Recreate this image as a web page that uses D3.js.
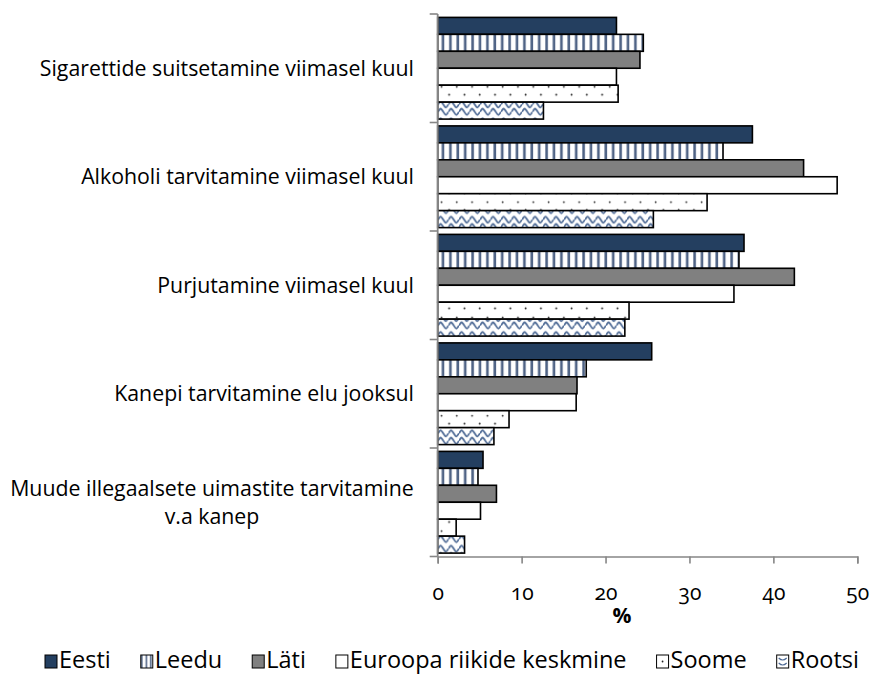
<!DOCTYPE html>
<html>
<head>
<meta charset="utf-8">
<script src="https://cdn.jsdelivr.net/npm/d3@7/dist/d3.min.js"></script>
<style>
  html, body { margin: 0; padding: 0; background: #fff; }
  svg text { font-family: "Open Sans", Lato, sans-serif; fill: #000; font-variant-numeric: oldstyle-nums; font-feature-settings: "onum" 1; }
</style>
</head>
<body>
<svg id="chart" width="872" height="680"></svg>
<script>
// Survey indicators (rows) and country groups (series)
const categories = [
  "Sigarettide suitsetamine viimasel kuul",
  "Alkoholi tarvitamine viimasel kuul",
  "Purjutamine viimasel kuul",
  "Kanepi tarvitamine elu jooksul",
  "Muude illegaalsete uimastite tarvitamine v.a kanep"
];
const seriesNames = ["Eesti", "Leedu", "Läti", "Euroopa riikide keskmine", "Soome", "Rootsi"];
const eesti   = [21.3, 37.5, 36.5, 25.5, 5.4];
const leedu   = [24.5, 34.0, 35.9, 17.7, 4.8];
const lati    = [24.1, 43.6, 42.5, 16.6, 7.0];
const euroopa = [21.3, 47.6, 35.3, 16.5, 5.1];
const soome   = [21.5, 32.1, 22.8, 8.5, 2.2];
const rootsi  = [12.6, 25.7, 22.3, 6.7, 3.2];
const xTicks = [0, 10, 20, 30, 40, 50];

const seriesValues = [eesti, leedu, lati, euroopa, soome, rootsi];

const svg = d3.select("#chart");
const defs = svg.append("defs");

const x = d3.scaleLinear().domain([0, 50]).range([437.7, 857.3]);
const y = d3.scaleBand().domain(categories).range([14, 556.5]).padding(0);
const inner = d3.scaleBand().domain(seriesNames)
  .range([3.4, y.bandwidth() - 3.4]).padding(0);
const barH = inner.bandwidth();

// fill styles per series: solid colours or patterned fills
const NAVY = "#243f60", GRAY = "#808080", STRIPE = "#4f6385", WAVE = "#4f6b96";

function stripePattern(id, oy) {
  const p = defs.append("pattern").attr("id", id)
    .attr("patternUnits", "userSpaceOnUse")
    .attr("x", 437.7).attr("y", oy).attr("width", 7.4).attr("height", 20);
  p.append("rect").attr("width", 7.4).attr("height", 20).attr("fill", "#fff");
  p.append("rect").attr("x", 4.0).attr("width", 2.6).attr("height", 20).attr("fill", STRIPE);
}
function dotPattern(id, oy) {
  const p = defs.append("pattern").attr("id", id)
    .attr("patternUnits", "userSpaceOnUse")
    .attr("x", 438).attr("y", oy).attr("width", 15.3).attr("height", barH);
  p.append("rect").attr("width", 15.3).attr("height", barH).attr("fill", "#fff");
  p.append("circle").attr("cx", 3.5).attr("cy", 4.6).attr("r", 0.95).attr("fill", "#222");
  p.append("circle").attr("cx", 11.15).attr("cy", 12.4).attr("r", 0.95).attr("fill", "#222");
}
function wavePattern(id, oy) {
  const w = 10.5, h = barH;
  const p = defs.append("pattern").attr("id", id)
    .attr("patternUnits", "userSpaceOnUse")
    .attr("x", 438).attr("y", oy).attr("width", w).attr("height", h);
  p.append("rect").attr("width", w).attr("height", h).attr("fill", "#fff");
  [5.2, 12.6].forEach(cy => {
    p.append("path")
      .attr("d", `M0,${cy} C${w * 0.25},${cy - 4.2} ${w * 0.25},${cy - 4.2} ${w * 0.5},${cy} S${w * 0.75},${cy + 4.2} ${w},${cy}`)
      .attr("fill", "none").attr("stroke", WAVE).attr("stroke-width", 1.8);
  });
}

categories.forEach((c, i) => {
  const base = y(c);
  stripePattern("stripe" + i, base + inner("Leedu"));
  dotPattern("dots" + i, base + inner("Soome"));
  wavePattern("wave" + i, base + inner("Rootsi"));
});

function fillFor(s, i) {
  switch (s) {
    case "Eesti": return NAVY;
    case "Leedu": return `url(#stripe${i})`;
    case "Läti": return GRAY;
    case "Euroopa riikide keskmine": return "#fff";
    case "Soome": return `url(#dots${i})`;
    default: return `url(#wave${i})`;
  }
}

// bars
const rows = svg.append("g").selectAll("g")
  .data(categories).join("g")
  .attr("transform", c => `translate(0,${y(c)})`);

rows.selectAll("rect")
  .data((c, i) => seriesNames.map((s, k) => ({ s, v: seriesValues[k][i], i })))
  .join("rect")
  .attr("x", x(0))
  .attr("y", d => inner(d.s))
  .attr("width", d => x(d.v) - x(0))
  .attr("height", barH)
  .attr("fill", d => fillFor(d.s, d.i))
  .attr("stroke", "#000")
  .attr("stroke-width", 1.6);

// axes
const AXIS = "#868686";
const xAxis = svg.append("g")
  .attr("transform", `translate(0,${y.range()[1]})`)
  .call(d3.axisBottom(x).tickValues(xTicks).tickSize(7).tickPadding(22).tickFormat(d3.format("d")));
xAxis.select(".domain").attr("stroke", AXIS).attr("stroke-width", 1.6);
xAxis.selectAll(".tick line").attr("stroke", AXIS).attr("stroke-width", 1.6);
xAxis.selectAll(".tick text").attr("font-size", 21).attr("font-family", null);

const yAxisG = svg.append("g");
yAxisG.append("line")
  .attr("x1", x(0)).attr("x2", x(0))
  .attr("y1", y.range()[0]).attr("y2", y.range()[1])
  .attr("stroke", AXIS).attr("stroke-width", 1.8);
const bounds = categories.map(c => y(c)).concat([y.range()[1]]);
yAxisG.selectAll("line.tk").data(bounds).join("line").attr("class", "tk")
  .attr("x1", x(0) - 8).attr("x2", x(0))
  .attr("y1", d => d).attr("y2", d => d)
  .attr("stroke", AXIS).attr("stroke-width", 1.6);

// category labels (long ones wrap onto two centred lines)
const labelLines = {
  "Muude illegaalsete uimastite tarvitamine v.a kanep": ["Muude illegaalsete uimastite tarvitamine", "v.a kanep"]
};
categories.forEach(c => {
  const cy = y(c) + y.bandwidth() / 2;
  const lines = labelLines[c] || [c];
  const t = svg.append("text")
    .attr("font-size", 21.3)
    .attr("text-anchor", lines.length > 1 ? "middle" : "end");
  const lh = 28;
  lines.forEach((ln, k) => {
    t.append("tspan")
      .attr("x", lines.length > 1 ? 212 : 414)
      .attr("y", cy + (k - (lines.length - 1) / 2) * lh)
      .attr("dy", "0.35em")
      .text(ln);
  });
});

// axis title
svg.append("text")
  .attr("x", 622).attr("y", 616).attr("dy", "0.35em")
  .attr("text-anchor", "middle")
  .attr("font-size", 21).attr("font-weight", "bold")
  .text("%");

// legend
const legend = svg.append("g").attr("transform", "translate(45,660)");
let lx = 0;
seriesNames.forEach((s, k) => {
  const g = legend.append("g").attr("transform", `translate(${lx},0)`);
  let lf;
  if (s === "Leedu") {
    const p = defs.append("pattern").attr("id", "lgStripe").attr("patternUnits", "userSpaceOnUse")
      .attr("x", 45 + lx + 1).attr("y", 0).attr("width", 4.5).attr("height", 20);
    p.append("rect").attr("width", 4.5).attr("height", 20).attr("fill", "#fff");
    p.append("rect").attr("x", 2.5).attr("width", 1.6).attr("height", 20).attr("fill", STRIPE);
    lf = "url(#lgStripe)";
  } else if (s === "Soome" || s === "Rootsi") {
    lf = "#fff";
  } else {
    lf = fillFor(s, 0);
  }
  g.append("rect").attr("x", 0).attr("y", -5).attr("width", 12).attr("height", 13)
    .attr("fill", lf).attr("stroke", "#000").attr("stroke-width", 1);
  if (s === "Soome") {
    g.append("circle").attr("cx", 6).attr("cy", 1.5).attr("r", 0.9).attr("fill", "#222");
  }
  if (s === "Rootsi") {
    g.append("path").attr("d", "M2,-2 Q6,2 10,-2 M2,3 Q6,7 10,3")
      .attr("fill", "none").attr("stroke", WAVE).attr("stroke-width", 1.1);
  }
  const t = g.append("text").attr("x", 14).attr("dy", "0.35em")
    .attr("font-size", 23.5).text(s);
  lx += 14 + t.node().getComputedTextLength() + 30;
});
</script>
</body>
</html>
